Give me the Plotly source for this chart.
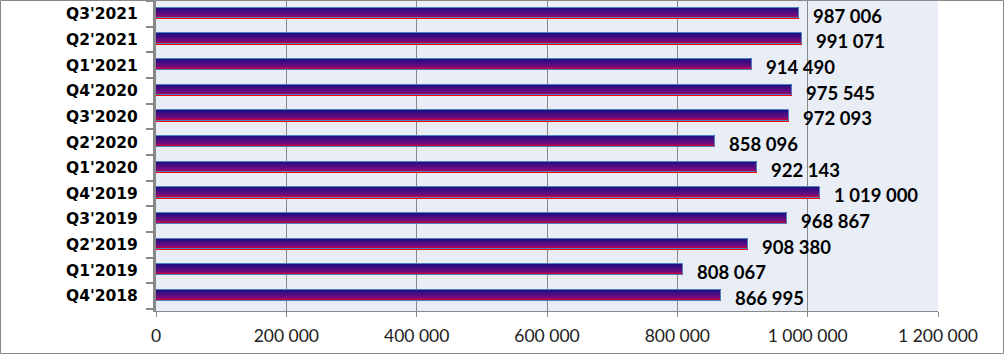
import plotly.graph_objects as go

categories = ["Q4'2018", "Q1'2019", "Q2'2019", "Q3'2019", "Q4'2019", "Q1'2020",
              "Q2'2020", "Q3'2020", "Q4'2020", "Q1'2021", "Q2'2021", "Q3'2021"]
values = [866995, 808067, 908380, 968867, 1019000, 922143,
          858096, 972093, 975545, 914490, 991071, 987006]
x_ticks = [0, 200000, 400000, 600000, 800000, 1000000, 1200000]

W, H = 1004, 354
L, R, T, B = 156, 66, 1, 43

def lerp(c1, c2, t):
    return tuple(int(round(a + (b - a) * t)) for a, b in zip(c1, c2))

top_c = (35, 15, 130)
mid_c = (120, 10, 125)
bot_c = (255, 0, 0)
MID = 0.3

fig = go.Figure()
N = 14
total = 0.42
sh = total / N
for i in range(N):
    t = i / (N - 1)  # 0 bottom -> 1 top
    if t < MID:
        c = lerp(bot_c, mid_c, t / MID)
    else:
        c = lerp(mid_c, top_c, (t - MID) / (1 - MID))
    fig.add_trace(go.Bar(
        y=categories, x=values, orientation="h",
        width=sh * 1.15, offset=-total / 2 + 0.03 + i * sh,
        marker=dict(color="rgb(%d,%d,%d)" % c, line=dict(width=0)),
        hoverinfo="skip", showlegend=False))

fig.add_trace(go.Bar(
    y=categories, x=values, orientation="h",
    width=total, offset=-total / 2 + 0.03,
    marker=dict(color="rgba(0,0,0,0)", line=dict(color="#4F81BD", width=1)),
    showlegend=False))

for c, v in zip(categories, values):
    fig.add_annotation(x=v, y=c, text="<b>" + f"{v:,}".replace(",", " ") + "</b>",
                       showarrow=False, xanchor="left", yanchor="middle",
                       xshift=12, yshift=-2,
                       font=dict(family="Lato", size=18.5, color="#000000"))

pw = W - L - R
ph = H - T - B
fig.add_shape(type="rect", xref="paper", yref="paper",
              x0=(-L + 0.5) / pw, x1=(pw + R - 0.5) / pw,
              y0=(-B + 0.5) / ph, y1=(ph + T - 0.5) / ph,
              line=dict(color="#888888", width=1), fillcolor="rgba(0,0,0,0)",
              layer="above")

fig.update_layout(
    width=W, height=H,
    margin=dict(l=L, r=R, t=T, b=B, pad=0),
    paper_bgcolor="white",
    plot_bgcolor="#E9EDF6",
    barmode="overlay",
    separators=". ",
    bargap=0,
    xaxis=dict(range=[0, 1200000], tickvals=x_ticks, tickformat=",d",
               showgrid=True, gridcolor="#888888", gridwidth=1,
               ticks="outside", ticklen=5, tickcolor="#888888",
               showline=True, linecolor="#888888", linewidth=1, mirror=False,
               zeroline=False, ticklabelstandoff=4,
               tickfont=dict(family="Lato", size=17.5, color="#222222")),
    yaxis=dict(type="category", categoryorder="array", categoryarray=categories,
               tickson="boundaries", ticks="outside", ticklen=7, tickwidth=2,
               tickcolor="#888888", showline=True, linecolor="#888888", linewidth=3,
               showgrid=False, zeroline=False, ticklabelstandoff=12,
               tickfont=dict(family="DejaVu Sans", size=15.5, color="#000000", weight="bold")),
)

fig.write_html("out.html")
